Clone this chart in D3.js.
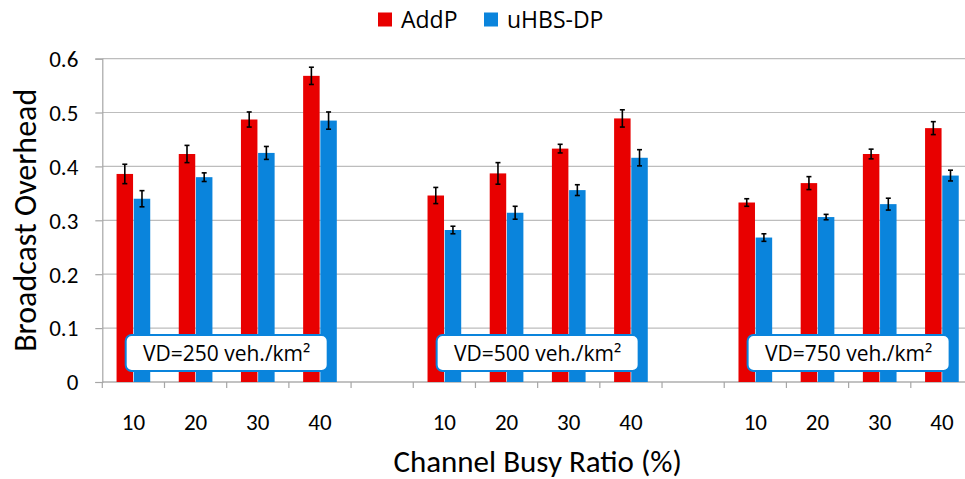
<!DOCTYPE html>
<html><head><meta charset="utf-8">
<script src="https://cdn.jsdelivr.net/npm/d3@7"></script>
<style>
body{margin:0;background:#fff}
svg text{font-family:Carlito, Calibri, "Liberation Sans Narrow", "Open Sans", sans-serif; fill:#000;}
svg text.ui{font-family:"Open Sans", "Noto Sans", sans-serif;}
</style>
</head><body>
<svg id="chart" width="965" height="479"></svg>
<script>
// ---- data ----
const groupLabels = ["VD=250 veh./km²", "VD=500 veh./km²", "VD=750 veh./km²"];
const busyRatios = ["10", "20", "30", "40"];
const seriesNames = ["AddP", "uHBS-DP"];
const seriesColors = ["#e80000", "#0a84dc"];
const yTicks = [0, 0.1, 0.2, 0.3, 0.4, 0.5, 0.6];
// values per group (250, 500, 750), in busy-ratio order
const addP     = [0.386, 0.423, 0.487, 0.568,  0.346, 0.387, 0.433, 0.489,  0.333, 0.369, 0.423, 0.471];
const addPErr  = [0.018, 0.016, 0.014, 0.016,  0.015, 0.020, 0.008, 0.016,  0.007, 0.012, 0.009, 0.012];
const uhbs     = [0.340, 0.380, 0.425, 0.485,  0.282, 0.314, 0.356, 0.416,  0.268, 0.306, 0.330, 0.383];
const uhbsErr  = [0.015, 0.008, 0.012, 0.016,  0.007, 0.012, 0.010, 0.015,  0.007, 0.005, 0.011, 0.010];

(function () {
// ---- build category keys (with spacer between groups) ----
const cats = [];
const rows = [];
groupLabels.forEach((g, gi) => {
  busyRatios.forEach((r, ri) => {
    const key = gi + "-" + r;
    cats.push(key);
    const i = gi * busyRatios.length + ri;
    rows.push({key, label: r, vals: [
      {s: seriesNames[0], v: addP[i], e: addPErr[i], c: seriesColors[0]},
      {s: seriesNames[1], v: uhbs[i], e: uhbsErr[i], c: seriesColors[1]}
    ]});
  });
  if (gi < groupLabels.length - 1) cats.push("gap" + gi);
});

const svg = d3.select("#chart");
const pLeft = 102.3, pRight = 973, pTop = 58.6, pBottom = 382;

const x = d3.scaleBand().domain(cats).range([pLeft, pRight]).padding(0);
const xs = d3.scaleBand().domain(seriesNames).range([0, x.bandwidth()]).paddingInner(0.04).paddingOuter(0.83);
const y = d3.scaleLinear().domain([0, 0.6]).range([pBottom, pTop]);

// gridlines
svg.append("g").selectAll("line").data(yTicks).join("line")
  .attr("x1", pLeft).attr("x2", 965)
  .attr("y1", d => y(d)).attr("y2", d => y(d))
  .attr("stroke", "#bdbdbd").attr("stroke-width", 1.2);

// y axis
const yAxis = svg.append("g").attr("transform", `translate(${pLeft},0)`)
  .call(d3.axisLeft(y).tickValues(yTicks).tickFormat(d => d === 0 ? "0" : d3.format(".1f")(d)).tickSize(7).tickPadding(17));
yAxis.select(".domain").attr("stroke", "#a6a6a6").attr("stroke-width", 1.2);
yAxis.selectAll(".tick line").attr("stroke", "#a6a6a6").attr("stroke-width", 1.2);
yAxis.selectAll("text").style("font-size", "23px").attr("dy", "0.34em");

// x axis: ticks at band boundaries
const bounds = cats.map(c => x(c)).concat([x(cats[cats.length - 1]) + x.bandwidth()]);
svg.append("line").attr("x1", pLeft).attr("x2", 965).attr("y1", pBottom).attr("y2", pBottom)
  .attr("stroke", "#a6a6a6").attr("stroke-width", 1.2);
svg.append("g").selectAll("line").data(bounds).join("line")
  .attr("x1", d => d).attr("x2", d => d).attr("y1", pBottom).attr("y2", pBottom + 6)
  .attr("stroke", "#a6a6a6").attr("stroke-width", 1.2);
svg.append("g").selectAll("text").data(rows).join("text")
  .attr("x", d => x(d.key) + x.bandwidth() / 2).attr("y", 422)
  .attr("text-anchor", "middle").attr("dy", "0.34em")
  .style("font-size", "23px").text(d => d.label);

// bars
const gBars = svg.append("g").selectAll("g").data(rows).join("g")
  .attr("transform", d => `translate(${x(d.key)},0)`);
gBars.selectAll("rect").data(d => d.vals).join("rect")
  .attr("x", d => xs(d.s)).attr("width", xs.bandwidth())
  .attr("y", d => y(d.v)).attr("height", d => y(0) - y(d.v))
  .attr("fill", d => d.c);
// error bars
const eb = gBars.selectAll("g.err").data(d => d.vals).join("g").attr("class", "err");
eb.append("line")
  .attr("x1", d => xs(d.s) + xs.bandwidth() / 2).attr("x2", d => xs(d.s) + xs.bandwidth() / 2)
  .attr("y1", d => y(d.v + d.e)).attr("y2", d => y(d.v - d.e))
  .attr("stroke", "#000").attr("stroke-width", 1.6);
eb.selectAll("line.cap").data(d => [{d, t: d.v + d.e}, {d, t: d.v - d.e}]).join("line").attr("class", "cap")
  .attr("x1", o => xs(o.d.s) + xs.bandwidth() / 2 - 2.5).attr("x2", o => xs(o.d.s) + xs.bandwidth() / 2 + 2.5)
  .attr("y1", o => y(o.t)).attr("y2", o => y(o.t))
  .attr("stroke", "#000").attr("stroke-width", 1.6);

// group label boxes
groupLabels.forEach((g, gi) => {
  const first = x(gi + "-" + busyRatios[0]);
  const last = x(gi + "-" + busyRatios[busyRatios.length - 1]) + x.bandwidth();
  const cx = (first + last) / 2;
  const bw = 202, bh = 36;
  svg.append("rect").attr("x", cx - bw / 2).attr("y", pBottom - 47).attr("width", bw).attr("height", bh)
    .attr("rx", 6).attr("fill", "#fff").attr("stroke", "#0a84dc").attr("stroke-width", 2);
  svg.append("text").attr("class", "ui").attr("x", cx).attr("y", pBottom - 29).attr("dy", "0.36em")
    .attr("text-anchor", "middle").style("font-size", "21px").text(g);
});

// legend
const leg = svg.append("g");
const legX = [378, 484];
seriesNames.forEach((s, i) => {
  leg.append("rect").attr("x", legX[i]).attr("y", 12.5).attr("width", 14).attr("height", 14).attr("fill", seriesColors[i]);
  leg.append("text").attr("class", "ui").attr("x", legX[i] + 23).attr("y", 19.5).attr("dy", "0.36em").style("font-size", "23px").text(s);
});

// axis titles
svg.append("text").attr("x", (pLeft + pRight) / 2).attr("y", 461).attr("dy", "0.35em")
  .attr("text-anchor", "middle").style("font-size", "31px").text("Channel Busy Ratio (%)");
svg.append("text").attr("transform", `translate(25,${(pTop + pBottom) / 2}) rotate(-90)`).attr("dy", "0.35em")
  .attr("text-anchor", "middle").style("font-size", "32px").text("Broadcast Overhead");
})();
</script>
</body></html>
